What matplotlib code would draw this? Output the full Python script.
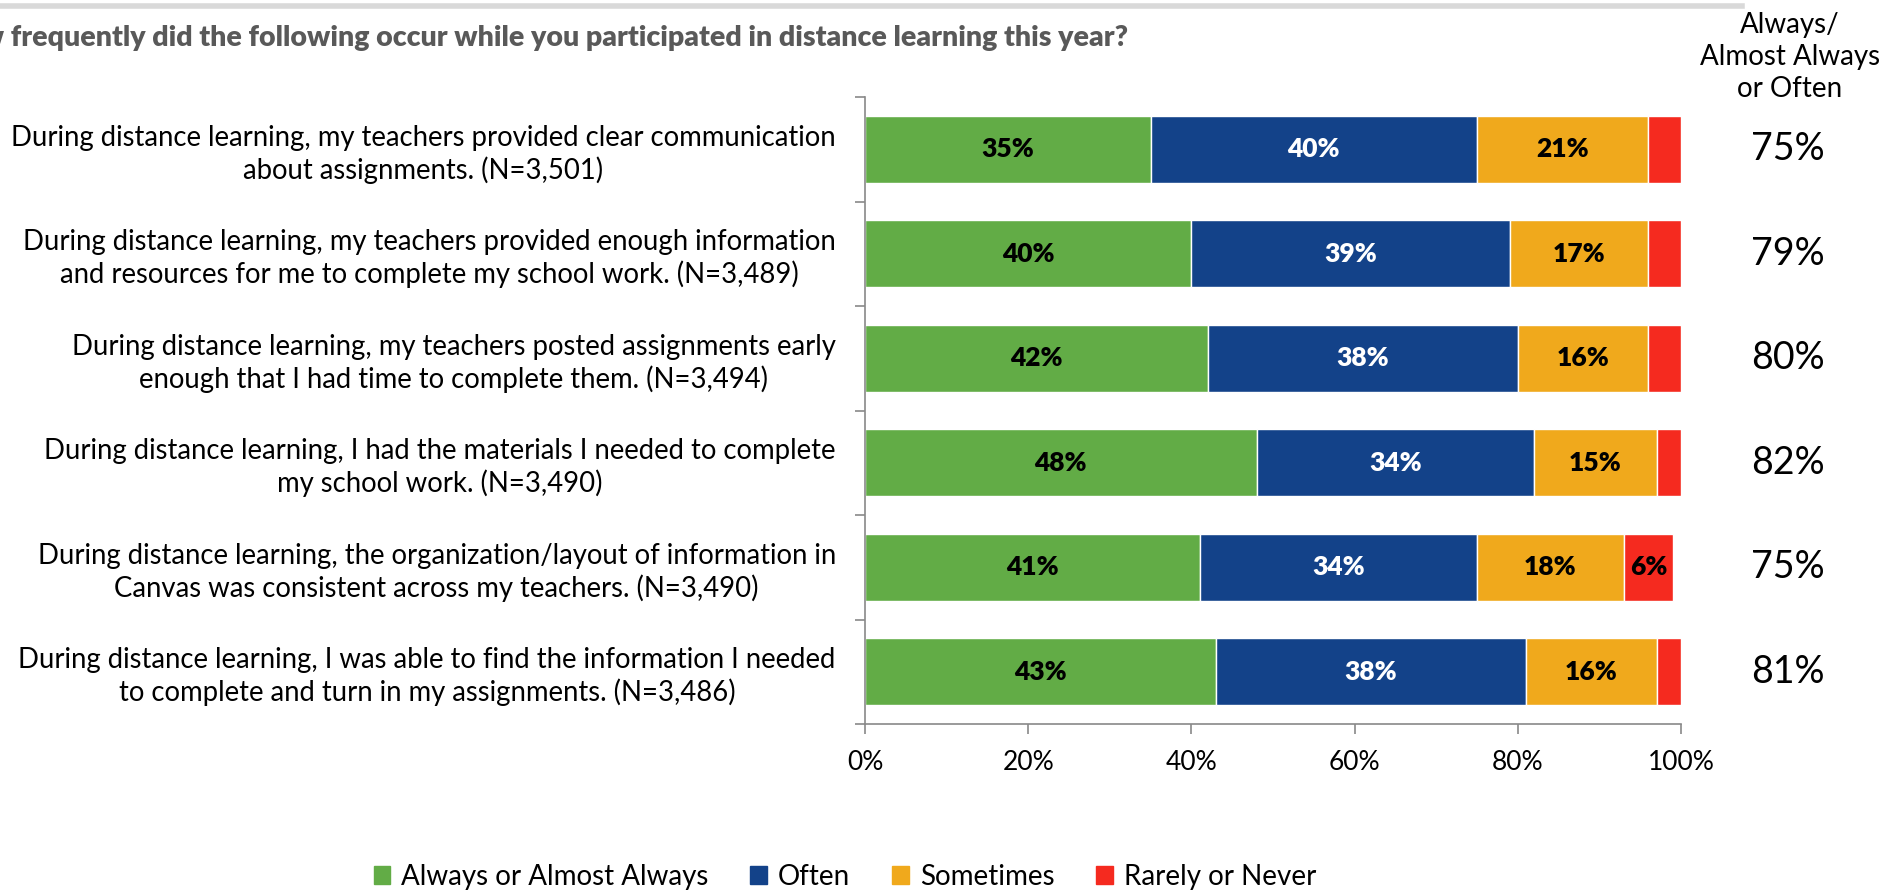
# stacked horizontal bars: distance learning survey

import numpy as np
import matplotlib.pyplot as plt
from matplotlib.patches import Patch
from matplotlib.lines import Line2D

plt.rcParams['font.family'] = ['Lato', 'DejaVu Sans']

questions = [
    "During distance learning, my teachers provided clear communication\nabout assignments. (N=3,501)",
    "During distance learning, my teachers provided enough information\nand resources for me to complete my school work. (N=3,489)",
    "During distance learning, my teachers posted assignments early\nenough that I had time to complete them. (N=3,494)",
    "During distance learning, I had the materials I needed to complete\nmy school work. (N=3,490)",
    "During distance learning, the organization/layout of information in\nCanvas was consistent across my teachers. (N=3,490)",
    "During distance learning, I was able to find the information I needed\nto complete and turn in my assignments. (N=3,486)",
]
always = [35, 40, 42, 48, 41, 43]
often = [40, 39, 38, 34, 34, 38]
sometimes = [21, 17, 16, 15, 18, 16]
rarely = [4, 4, 4, 3, 6, 3]

series = ["Always or Almost Always", "Often", "Sometimes", "Rarely or Never"]
colors = ["#62ac46", "#134289", "#f0a91c", "#f52a1f"]
txtcol = ["black", "white", "black", "black"]

title = "How frequently did the following occur while you participated in distance learning this year?"

W, H = 1892, 893
fig = plt.figure(figsize=(W / 100, H / 100), dpi=100)
ax = fig.add_axes([865 / W, 1 - 724 / H, (1681 - 865) / W, (724 - 97) / H])

y = np.arange(len(questions))
left = np.zeros(len(questions))
for vals, c, tc in zip([always, often, sometimes, rarely], colors, txtcol):
    vals = np.array(vals)
    ax.barh(y, vals, left=left, height=0.64, color=c, edgecolor="white", linewidth=1)
    for yi, l, v in zip(y, left, vals):
        if v >= 5:
            ax.text(l + v / 2, yi, f"{v}%", ha="center", va="center",
                    color=tc, fontsize=19, fontweight="heavy")
    left += vals

ax.set_xlim(0, 100)
ax.set_ylim(len(questions) - 0.5, -0.5)
ax.set_xticks(range(0, 101, 20))
ax.set_xticklabels([f"{t}%" for t in range(0, 101, 20)], fontsize=19)
ax.set_yticks(y)
ax.set_yticklabels(questions, fontsize=19.8, multialignment="center", linespacing=1.22)
ax.set_yticks(np.arange(-0.5, len(questions)), minor=True)
ax.tick_params(axis="y", which="major", length=0, pad=21)
ax.tick_params(axis="y", which="minor", length=7, color="#898989", width=1.2)
ax.tick_params(axis="x", length=7, color="#898989", width=1.2, pad=12)
for s in ["top", "right"]:
    ax.spines[s].set_visible(False)
for s in ["left", "bottom"]:
    ax.spines[s].set_color("#898989")
    ax.spines[s].set_linewidth(1.2)

# right-hand summary column
fig.text(1790 / W, 1 - 57 / H, "Always/\nAlmost Always\nor Often", ha="center", va="center",
         fontsize=20, linespacing=1.3)
for yi, a, o in zip(y, always, often):
    ypix = 97 + (yi + 0.5) * (724 - 97) / len(questions)
    fig.text(1788 / W, 1 - ypix / H, f"{a + o}%", ha="center", va="center", fontsize=27)

fig.text(1128 / W, 1 - 38 / H, title, ha="right", va="center", fontsize=20.5,
         fontweight="heavy", color="#595959")
fig.add_artist(Line2D([0, 1742 / W], [1 - 6 / H, 1 - 6 / H], color="#d9d9d9", linewidth=4))

handles = [Patch(color=c, label=s) for s, c in zip(series, colors)]
fig.legend(handles=handles, loc="center", bbox_to_anchor=(845 / W, 1 - 877 / H), ncol=4,
           frameon=False, fontsize=20, handlelength=0.6, handleheight=0.6,
           handletextpad=0.4, columnspacing=1.5)

fig.savefig("out.png", dpi=100)
